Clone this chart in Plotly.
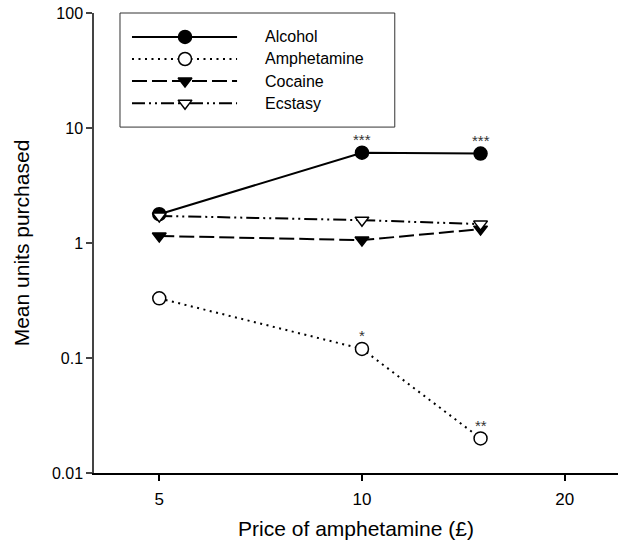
import math
import plotly.graph_objects as go

# Data
prices = [5, 10, 15]
series_names = ["Alcohol", "Amphetamine", "Cocaine", "Ecstasy"]
alcohol = [1.78, 6.1, 6.0]
amphetamine = [0.33, 0.12, 0.020]
cocaine = [1.15, 1.06, 1.32]
ecstasy = [1.72, 1.58, 1.46]
sig_alcohol = ["", "***", "***"]
sig_amphetamine = ["", "*", "**"]
x_ticks = [5, 10, 20]
y_ticks = [0.01, 0.1, 1, 10, 100]
y_tick_labels = ["0.01", "0.1", "1", "10", "100"]

FONT = "Arial, Liberation Sans, Helvetica, sans-serif"

styles = {
    "Alcohol": dict(dash="solid", symbol="circle", fill="black", size=13),
    "Amphetamine": dict(dash="2px,4.5px", symbol="circle", fill="white", size=13),
    "Cocaine": dict(dash="15px,5px", symbol="triangle-down", fill="black", size=12),
    "Ecstasy": dict(dash="13px,4px,2px,4px,2px,4px", symbol="triangle-down", fill="white", size=12),
}
values = {"Alcohol": alcohol, "Amphetamine": amphetamine,
          "Cocaine": cocaine, "Ecstasy": ecstasy}

fig = go.Figure()
for name in series_names:
    st = styles[name]
    fig.add_trace(go.Scatter(
        x=prices, y=values[name], mode="lines+markers", name=name,
        line=dict(color="black", width=2, dash=st["dash"]),
        marker=dict(symbol=st["symbol"], size=st["size"], color=st["fill"],
                    line=dict(color="black", width=1.5)),
        showlegend=False,
    ))

# Significance marks above points
for ys, sig in ((alcohol, sig_alcohol), (amphetamine, sig_amphetamine)):
    for xv, yv, s in zip(prices, ys, sig):
        if s:
            fig.add_annotation(x=math.log10(xv), y=math.log10(yv), text=s,
                               showarrow=False, yshift=13,
                               font=dict(family=FONT, size=15, color="#333"))

# Hand-built legend box (overlay axes in fractional units)
legend_rows = [0.948, 0.900, 0.852, 0.804]
line_x = [0.0725, 0.273]
marker_x = 0.1737
text_x = 0.3225
for name, yr in zip(series_names, legend_rows):
    st = styles[name]
    fig.add_trace(go.Scatter(
        x=line_x, y=[yr, yr], mode="lines", xaxis="x2", yaxis="y2",
        line=dict(color="black", width=2, dash=st["dash"]),
        showlegend=False, hoverinfo="skip"))
    fig.add_trace(go.Scatter(
        x=[marker_x], y=[yr], mode="markers", xaxis="x2", yaxis="y2",
        marker=dict(symbol=st["symbol"], size=st["size"], color=st["fill"],
                    line=dict(color="black", width=1.5)),
        showlegend=False, hoverinfo="skip"))
    fig.add_annotation(x=text_x, y=yr, xref="paper", yref="paper", text=name,
                       showarrow=False, xanchor="left", yanchor="middle",
                       font=dict(family=FONT, size=16, color="black"))

fig.add_shape(type="rect", xref="paper", yref="paper",
              x0=0.0496, x1=0.574, y0=0.752, y1=1.0,
              line=dict(color="#333", width=1), fillcolor="rgba(0,0,0,0)")

fig.update_layout(
    width=636, height=543,
    margin=dict(l=94, r=18, t=13, b=70, autoexpand=False),
    paper_bgcolor="white", plot_bgcolor="white",
    font=dict(family=FONT, size=16, color="black"),
    xaxis=dict(
        type="log", range=[math.log10(4.0), math.log10(24)],
        tickvals=x_ticks, ticktext=[str(v) for v in x_ticks],
        showline=True, linecolor="black", linewidth=1.5,
        ticks="outside", ticklen=6, tickwidth=1.5, tickcolor="black",
        showgrid=False, zeroline=False, automargin=False,
        tickfont=dict(size=17), ticklabelstandoff=4,
        title=dict(text="Price of amphetamine (£)", font=dict(size=21), standoff=13),
    ),
    yaxis=dict(
        type="log", range=[-2, 2],
        tickvals=y_ticks, ticktext=y_tick_labels,
        showline=True, linecolor="#444", linewidth=1.5,
        ticks="outside", ticklen=6, tickwidth=1.5, tickcolor="#444",
        showgrid=False, zeroline=False, automargin=False,
        tickfont=dict(size=16),
        title=dict(text="Mean units purchased", font=dict(size=21), standoff=17),
    ),
    xaxis2=dict(overlaying="x", range=[0, 1], visible=False),
    yaxis2=dict(overlaying="y", range=[0, 1], visible=False),
)

fig.write_html("out.html")
